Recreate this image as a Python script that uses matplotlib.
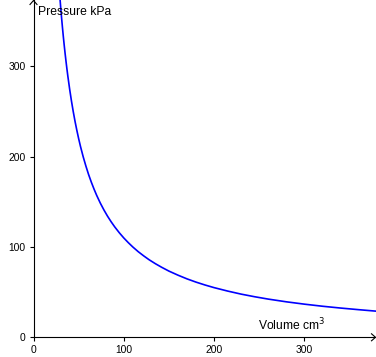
import matplotlib
matplotlib.use("Agg")
import matplotlib.pyplot as plt
from matplotlib.lines import Line2D

plt.rcParams['font.family'] = ['Liberation Sans', 'DejaVu Sans']

# Values (Volume cm^3 -> Pressure kPa)
volume = [29, 30, 31, 32, 33, 34, 35, 36, 37, 38, 40, 42, 44, 46, 48, 50, 52,
          55, 58, 61, 64, 67, 70, 74, 78, 82, 86, 90, 95, 100, 105, 110, 116,
          122, 128, 135, 142, 150, 160, 170, 180, 190, 200, 215, 230, 245, 260,
          280, 300, 320, 340, 360, 380]
pressure = [379.3, 366.7, 354.8, 343.8, 333.3, 323.5, 314.3, 305.6, 297.3,
            289.5, 275.0, 261.9, 250.0, 239.1, 229.2, 220.0, 211.5, 200.0,
            189.7, 180.3, 171.9, 164.2, 157.1, 148.6, 141.0, 134.1, 127.9,
            122.2, 115.8, 110.0, 104.8, 100.0, 94.8, 90.2, 85.9, 81.5, 77.5,
            73.3, 68.8, 64.7, 61.1, 57.9, 55.0, 51.2, 47.8, 44.9, 42.3, 39.3,
            36.7, 34.4, 32.4, 30.6, 28.9]

x_ticks = [0, 100, 200, 300]
y_ticks = [0, 100, 200, 300]
x_label = "Volume cm$^3$"
y_label = "Pressure kPa"

W, H = 376, 357
fig = plt.figure(figsize=(W / 100, H / 100), dpi=100)
x0 = 33.5
y0 = 337.3
ax = fig.add_axes([x0 / W, (H - y0) / H, (W - x0) / W, y0 / H])
ax.set_xlim(0, (W - x0) / 0.903)
ax.set_ylim(0, y0 / 0.903)

ax.plot(volume, pressure, color='#0000ff', lw=1.2, solid_joinstyle='round',
        solid_capstyle='round')

for s in ['top', 'right']:
    ax.spines[s].set_visible(False)
for s in ['left', 'bottom']:
    ax.spines[s].set_linewidth(0.8)
    ax.spines[s].set_color('black')

ax.set_xticks(x_ticks)
ax.set_yticks(y_ticks)
ax.set_xticklabels([str(t) for t in x_ticks])
ax.set_yticklabels([str(t) for t in y_ticks])
ax.tick_params(axis='both', direction='out', length=3, width=0.8, labelsize=7.4,
               pad=2.5)

# chevron arrow heads at the axis ends (figure pixel coordinates)
def px(x, y):
    return x / W, 1 - y / H

for pts in ([px(30, 4.5), px(33.5, 0.5), px(37, 4.5)],
            [px(371.5, 333.8), px(375.5, 337.3), px(371.5, 340.8)]):
    xs, ys = zip(*pts)
    fig.add_artist(Line2D(xs, ys, transform=fig.transFigure, color='black', lw=0.8))

fig.text(38 / W, 1 - 12 / H, y_label, fontsize=8.7, ha='left', va='center')
fig.text(258 / W, 1 - 325 / H, x_label, fontsize=8.7, ha='left', va='center')

fig.savefig('out.png', dpi=100)
